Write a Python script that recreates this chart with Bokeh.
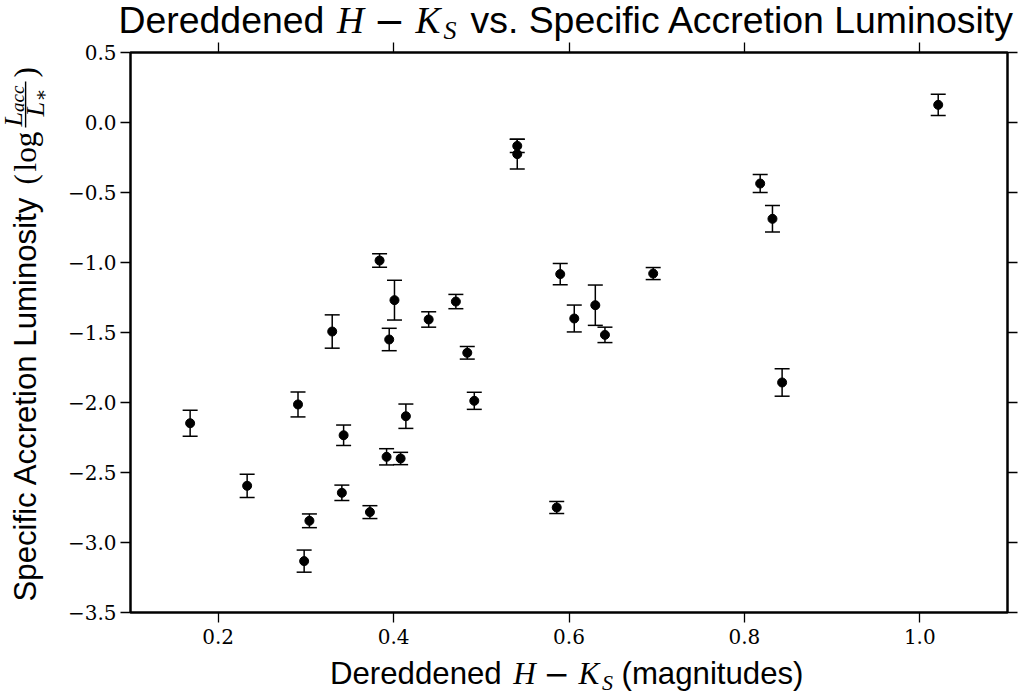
from bokeh.plotting import figure
from bokeh.models import (Range1d, FixedTicker, LinearAxis, Whisker, TeeHead,
                          ColumnDataSource, Label, BoxAnnotation, CustomJSTickFormatter)
from bokeh.embed import file_html
from bokeh.resources import INLINE

# ---- data ----
hk = [0.168, 0.233, 0.291, 0.298, 0.304, 0.330, 0.343, 0.341, 0.373, 0.384,
      0.392, 0.395, 0.401, 0.408, 0.414, 0.440, 0.471, 0.484, 0.492, 0.541,
      0.541, 0.586, 0.590, 0.606, 0.630, 0.641, 0.696, 0.818, 0.832, 0.843, 1.021]
log_lacc = [-2.148, -2.595, -2.014, -3.133, -2.845, -1.493, -2.234, -2.645, -2.783, -0.986,
            -2.388, -1.550, -1.269, -2.400, -2.098, -1.407, -1.279, -1.645, -1.988, -0.167,
            -0.226, -2.750, -1.083, -1.400, -1.305, -1.517, -1.079, -0.436, -0.688, -1.857, 0.126]
log_lacc_err = [0.093, 0.083, 0.089, 0.079, 0.049, 0.119, 0.073, 0.055, 0.046, 0.048,
                0.058, 0.080, 0.142, 0.044, 0.087, 0.055, 0.051, 0.045, 0.061, 0.048,
                0.107, 0.043, 0.076, 0.096, 0.144, 0.055, 0.043, 0.064, 0.095, 0.098, 0.076]

x_ticks = [0.2, 0.4, 0.6, 0.8, 1.0]
x_tick_labels = ["0.2", "0.4", "0.6", "0.8", "1.0"]
y_ticks = [-3.5, -3.0, -2.5, -2.0, -1.5, -1.0, -0.5, 0.0, 0.5]
y_tick_labels = ["\u22123.5", "\u22123.0", "\u22122.5", "\u22122.0", "\u22121.5",
                 "\u22121.0", "\u22120.5", "0.0", "0.5"]

# ---- layout: the figure frame covers the whole canvas, the axes box is drawn inside ----
W, H = 1026, 697
FL, FR, FT, FB = 130, 1007, 52, 612          # axes box in canvas pixels
X0, X1, Y0, Y1 = 0.1, 1.1, -3.5, 0.5         # data limits of the axes box
KX = (FR - FL) / (X1 - X0)                   # px per x unit
KY = (FB - FT) / (Y1 - Y0)                   # px per y unit
XS = X0 - FL / KX
XE = XS + W / KX
YT = Y1 + FT / KY
YB_ = YT - H / KY

p = figure(width=W, height=H, x_range=Range1d(XS, XE), y_range=Range1d(YB_, YT),
           output_backend="svg", toolbar_location=None, title=None,
           x_axis_location=None, y_axis_location=None,
           min_border=0, min_border_left=0, min_border_right=0,
           min_border_top=0, min_border_bottom=0)
p.background_fill_color = "white"
p.border_fill_color = "white"
p.outline_line_color = None
for g in p.grid:
    g.visible = False

blank = CustomJSTickFormatter(code="return ''")

def make_axis(ticks, labels, loc, bounds, standoff):
    ax = LinearAxis(ticker=FixedTicker(ticks=ticks), fixed_location=loc, bounds=bounds)
    ax.axis_line_color = None
    ax.major_tick_in = 0
    ax.major_tick_out = 10
    ax.major_tick_line_width = 1.3
    ax.major_tick_line_color = "black"
    ax.minor_tick_line_color = None
    ax.major_label_text_font = "DejaVu Serif"
    ax.major_label_text_font_size = "20px"
    ax.major_label_text_color = "black"
    ax.major_label_standoff = standoff
    if labels is None:
        ax.formatter = blank
    else:
        ax.major_label_overrides = dict(zip(ticks, labels))
    return ax

p.add_layout(make_axis(x_ticks, x_tick_labels, Y0, (X0, X1), 6), "below")
p.add_layout(make_axis(y_ticks, y_tick_labels, X0, (Y0, Y1), 4), "left")
p.add_layout(make_axis(x_ticks, None, Y1, (X0, X1), 5), "above")
p.add_layout(make_axis(y_ticks, None, X1, (Y0, Y1), 5), "right")

# axes box
p.add_layout(BoxAnnotation(left=X0, right=X1, bottom=Y0, top=Y1,
                           fill_color=None, fill_alpha=0,
                           line_color="black", line_alpha=1.0, line_width=2.5,
                           level="overlay"))

# ---- error bars and points ----
src = ColumnDataSource(dict(
    x=hk, y=log_lacc,
    lo=[v - e for v, e in zip(log_lacc, log_lacc_err)],
    hi=[v + e for v, e in zip(log_lacc, log_lacc_err)],
))
p.add_layout(Whisker(base="x", lower="lo", upper="hi", source=src,
                     line_color="black", line_width=1.5,
                     lower_head=TeeHead(size=15, line_color="black", line_width=1.5),
                     upper_head=TeeHead(size=15, line_color="black", line_width=1.5)))
p.scatter("x", "y", source=src, marker="circle", size=9, color="black")

# ---- texts (title / axis labels with math pieces) ----
def dx(sx):
    return XS + sx / KX

def dy(sy):
    return YT - sy / KY

SHIFT = 0.33   # empirical baseline correction (in em)

def put(text, sx, sy, size, font="Liberation Sans", style="normal", angle=0, align="left"):
    if angle == 0:
        sy = sy - SHIFT * size
    else:
        sx = sx - SHIFT * size
    p.add_layout(Label(x=dx(sx), y=dy(sy), text=text, text_font=font,
                       text_font_size=f"{size}px", text_font_style=style,
                       angle=angle, angle_units="deg", text_align=align,
                       text_baseline="alphabetic", text_color="black"))

SERIF = "Liberation Serif"
# title
TB = 32
put("Dereddened", 118, TB, 37.4)
put("H", 350, TB, 37.4, SERIF, "italic", align="center")
put("\u2212", 389, TB, 37.4, "DejaVu Serif", align="center")
put("K", 427.5, TB, 37.4, SERIF, "italic", align="center")
put("S", 443, TB + 7, 26, SERIF, "italic")
put("vs. Specific Accretion Luminosity", 470, TB, 37.4)

# x label
XB = 683
put("Dereddened", 329.5, XB, 31.2)
put("H", 524, XB, 31.2, SERIF, "italic", align="center")
put("\u2212", 556, XB, 31.2, "DejaVu Serif", align="center")
put("K", 588.5, XB, 31.2, SERIF, "italic", align="center")
put("S", 601.5, XB + 6, 22, SERIF, "italic")
put("(magnitudes)", 621, XB, 31.2)

# y label (rotated)
YLB = 35.5
put("Specific Accretion Luminosity", YLB, 601, 31.2, angle=90)
put("(", YLB, 184, 31.2, SERIF, angle=90)
put("log", YLB, 171, 31.2, SERIF, angle=90)
put("L", 21.5, 126, 26, SERIF, "italic", angle=90)
put("acc", 23.5, 111.5, 19, SERIF, "italic", angle=90)
put("L", 44, 116, 26, SERIF, "italic", angle=90)
put("\u2217", 46, 101, 19, "DejaVu Serif", angle=90)
put(")", YLB, 77, 31.2, SERIF, angle=90)
p.add_layout(BoxAnnotation(left=dx(24.4), right=dx(25.8), top=dy(81), bottom=dy(127),
                           fill_color="black", fill_alpha=1.0, line_color=None))

open("out.html", "w").write(file_html(p, INLINE))
